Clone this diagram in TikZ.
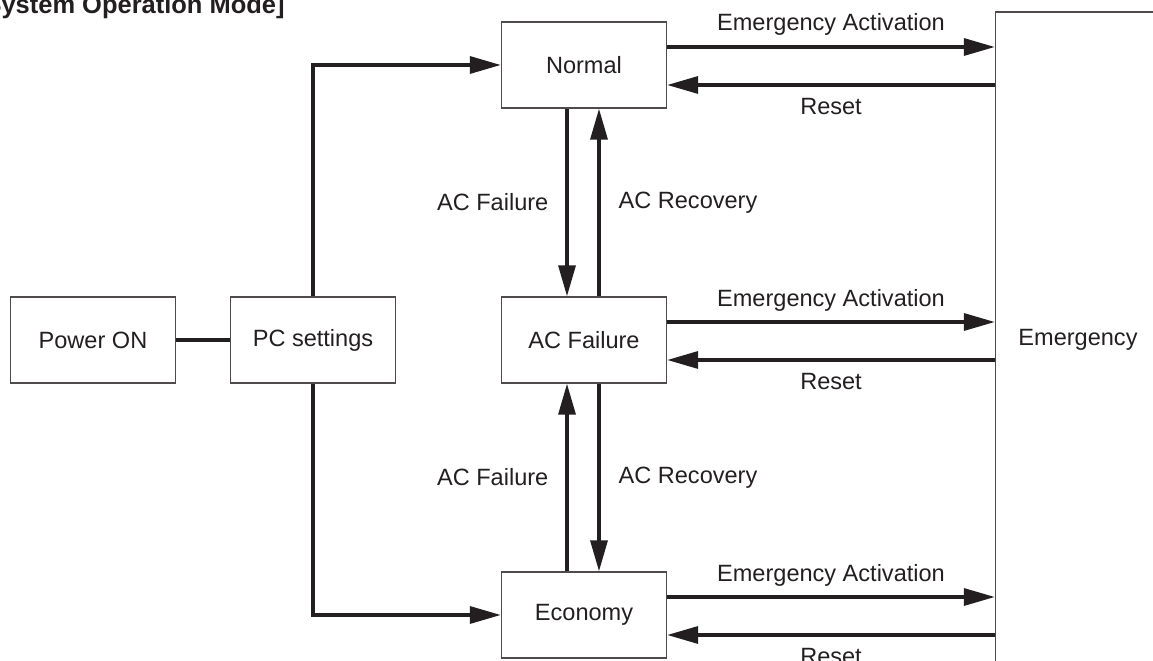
\documentclass[tikz,border=0pt]{standalone}
\usepackage{fontspec}
\setmainfont{Liberation Sans}
\usetikzlibrary{positioning,arrows.meta}
\definecolor{modeink}{RGB}{35,31,32}
\definecolor{modeline}{RGB}{80,75,75}

\begin{document}
\begin{tikzpicture}[x=0.02cm, y=-0.02cm, font=\fontsize{13.4}{16}\selectfont, text=modeink,
  modebox/.style={draw=modeline, line width=0.8pt, minimum width=3.3cm, minimum height=1.72cm},
  flow/.style={draw=modeink, line width=1.9pt, -{Triangle[length=0.62cm, width=0.34cm]}},
  link/.style={draw=modeink, line width=1.9pt},
  lbl/.style={inner sep=0pt}]
\useasboundingbox (0,0) rectangle (1153,661);

% Title
\node[lbl, anchor=base east, font=\fontsize{14.5}{17}\selectfont\bfseries] (title) at (285,14) {[System Operation Mode]};

% Mode boxes
\node[modebox] (power) at (93,340) {Power ON};
\node[modebox] (pc) at (313,340) {PC settings};
\node[modebox] (normal) at (584,65) {Normal};
\node[modebox] (acfail) at (584,340) {AC Failure};
\node[modebox] (economy) at (584,615) {Economy};
\node[modebox, minimum height=13.12cm] (emergency) at (1078,340) {Emergency};

% Start-up
\draw[link] (power) -- (pc);
\draw[flow] (pc.north) |- (normal);
\draw[flow] (pc.south) |- (economy);

% AC failure / recovery
\draw[flow] ([xshift=-0.34cm]normal.south) -- ([xshift=-0.34cm]acfail.north) node[midway, left=0.34cm, lbl] {AC Failure};
\draw[flow] ([xshift=0.3cm]acfail.north) -- ([xshift=0.3cm]normal.south) node[midway, right=0.36cm, lbl] {AC Recovery};
\draw[flow] ([xshift=-0.34cm]economy.north) -- ([xshift=-0.34cm]acfail.south) node[midway, left=0.34cm, lbl] {AC Failure};
\draw[flow] ([xshift=0.3cm]acfail.south) -- ([xshift=0.3cm]economy.north) node[midway, right=0.36cm, lbl] {AC Recovery};

% Emergency activation / reset
\foreach \m in {normal, acfail, economy} {
  \draw[flow] ([yshift=0.36cm]\m.east) -- ([yshift=0.36cm]\m.east -| emergency.west) node[midway, lbl, anchor=base, yshift=0.32cm] {Emergency Activation};
  \draw[flow] ([yshift=-0.4cm]\m.east -| emergency.west) -- ([yshift=-0.4cm]\m.east) node[midway, lbl, anchor=base, yshift=-0.59cm] {Reset};
}
\end{tikzpicture}
\end{document}
